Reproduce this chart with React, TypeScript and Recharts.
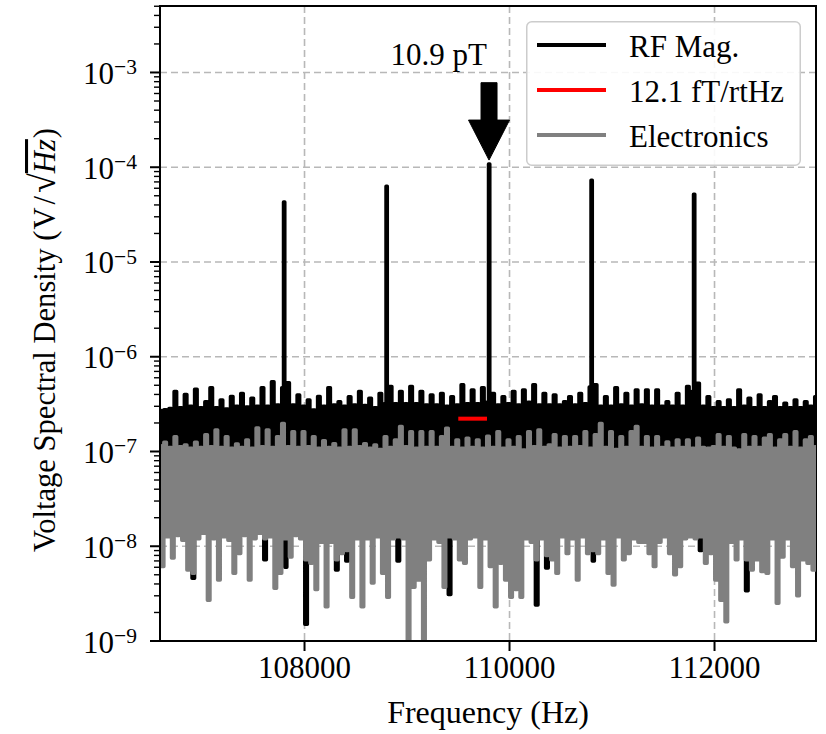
import React from 'react';
import {
  LineChart,
  Line,
  XAxis,
  YAxis,
  CartesianGrid,
  Legend,
  ReferenceLine,
  ReferenceDot,
  ReferenceArea,
} from 'recharts';

const FONT = '"Liberation Serif", "Times New Roman", Times, serif';
const NV = 1e-9; // values below are in nV/rtHz

// frequency grid of the spectrum (Hz)
const freqStart = 106590;
const freqStep = 50;
const xDomain: [number, number] = [106590, 112990];
const yDomain: [number, number] = [1e-9, 5.03e-3];
const xTicks = [108000, 110000, 112000];
const yDecades = [1e-9, 1e-8, 1e-7, 1e-6, 1e-5, 1e-4, 1e-3];
const minorMultipliers = [2, 3, 4, 5, 6, 7, 8, 9];

// RF magnetometer spectrum: upper / lower excursions of the noise (nV/rtHz)
const rfHi = [
  270, 275, 285, 430, 290, 400, 300, 455, 290, 335,
  470, 290, 350, 280, 380, 300, 410, 295, 365, 300,
  470, 300, 545, 310, 470, 530, 310, 395, 300, 349,
  274, 380, 300, 470, 310, 335, 300, 378, 310, 430,
  305, 365, 290, 410, 320, 485, 320, 430, 320, 485,
  320, 430, 310, 395, 310, 410, 300, 378, 310, 505,
  320, 446, 320, 470, 330, 410, 310, 378, 320, 430,
  310, 446, 330, 505, 310, 410, 310, 395, 310, 335,
  378, 310, 410, 320, 480, 505, 300, 378, 300, 470,
  310, 410, 300, 446, 310, 446, 300, 446, 300, 335,
  300, 410, 300, 485, 430, 525, 300, 378, 290, 335,
  290, 350, 290, 446, 300, 365, 290, 395, 290, 335,
  378, 290, 322, 290, 350, 290, 335, 300, 378,
];
const rfLo = [
  28, 25, 32, 26, 30, 24, 4.6, 27, 31, 25,
  29, 26, 24, 33, 27, 25, 30, 28, 26, 24,
  7.2, 27, 30, 25, 6, 29, 26, 31, 1.5, 27,
  25, 30, 28, 24, 5.6, 29, 7.0, 26, 30, 25,
  28, 24, 31, 27, 25, 29, 7.0, 26, 30, 28,
  24, 27, 29, 25, 31, 26, 3.1, 28, 25, 30,
  27, 24, 29, 26, 30, 25, 28, 31, 24, 27,
  29, 26, 25, 2.4, 30, 5.9, 27, 24, 29, 26,
  31, 25, 28, 27, 7.0, 24, 30, 26, 29, 25,
  27, 31, 24, 28, 26, 30, 25, 29, 27, 24,
  28, 26, 31, 25, 27, 9.0, 29, 24, 30, 26,
  25, 28, 27, 31, 3.4, 26, 29, 24, 27, 30,
  26, 28, 25, 29, 27, 24, 30, 26, 28,
];
// RF signal peaks
const peakFreqs = [107800, 108800, 109800, 110800, 111800];
const peakValues = [43000, 63000, 108000, 73000, 52000];

// Electronics noise (nV/rtHz)
const elHi = [
  115, 125, 110, 143, 112, 117, 108, 125, 110, 150,
  112, 169, 110, 143, 108, 120, 110, 132, 108, 177,
  112, 169, 110, 143, 198, 112, 162, 110, 162, 112,
  143, 108, 130, 110, 121, 108, 169, 110, 169, 112,
  121, 108, 117, 105, 143, 110, 132, 183, 112, 162,
  108, 162, 110, 162, 110, 143, 176, 110, 132, 108,
  138, 110, 132, 108, 145, 110, 162, 108, 132, 110,
  143, 104, 162, 112, 169, 110, 117, 150, 108, 143,
  110, 143, 112, 162, 108, 150, 198, 110, 162, 105,
  143, 110, 162, 183, 110, 143, 108, 143, 110, 126,
  108, 132, 110, 132, 108, 138, 110, 108, 112, 150,
  110, 143, 108, 104, 150, 110, 143, 110, 138, 150,
  108, 132, 150, 110, 162, 108, 132, 143, 112,
];
const elLo = [
  6.1, 12.6, 7.5, 13, 11.6, 5.6, 5.2, 12, 13.7, 2.7,
  12, 4.4, 12.6, 11.6, 5.2, 8.4, 13, 4.4, 12, 13.7,
  12, 12.6, 3.6, 5.2, 12, 7.7, 13, 12, 7.2, 6.6,
  3.5, 11, 2.3, 11, 7.2, 8.4, 9, 2.9, 12, 2.3,
  12, 4.1, 12.6, 5.2, 2.9, 12, 12.6, 12, 0.5, 3.7,
  4.4, 0.5, 7.2, 12, 11, 3.7, 12.6, 12, 7.2, 6.6,
  12, 12.6, 3.7, 12, 6.1, 2.3, 6.6, 4.4, 2.9, 3.5,
  2.9, 12, 11, 7.2, 12, 8, 7.2, 5.2, 12.6, 8.4,
  12, 4.4, 12.6, 8.4, 9, 8.4, 12, 5.2, 3.9, 12.6,
  7.2, 8.4, 12, 11, 11, 8.4, 6.1, 11, 12.6, 8.4,
  5, 6.1, 12, 12.6, 12, 12.6, 6.6, 8.4, 4.4, 2.7,
  1.6, 11, 7.2, 12, 7.2, 5.6, 7.2, 5.4, 5.2, 12,
  2.5, 7.7, 12, 6.1, 3.0, 7.2, 6.6, 5.6, 7.2,
];

// 12.1 fT/rtHz sensitivity marker
const redFreqs = [109500, 109780];
const redLevel = 222; // nV/rtHz

// annotation arrow
const arrowFreq = 109800;
const arrowTail = 7.8e-4;
const arrowTip = 1.19e-4;
const arrowLabel = '10.9 pT';
const arrowLabelFreq = 109310;
const arrowLabelValue = 1.2e-3;

const series = [
  { name: 'RF Mag.', color: '#000000' },
  { name: '12.1 fT/rtHz', color: '#ff0000' },
  { name: 'Electronics', color: '#808080' },
];

type Pt = { f: number; v: number };

function buildSpectrum(hi: number[], lo: number[], extraF: number[] = [], extraV: number[] = []): Pt[] {
  const pts: Pt[] = [];
  hi.forEach((h, i) => {
    const f = freqStart + i * freqStep;
    pts.push({ f, v: h * NV });
    pts.push({ f: f + freqStep / 2, v: lo[i] * NV });
  });
  extraF.forEach((f, k) => pts.push({ f, v: extraV[k] * NV }));
  pts.sort((a, b) => a.f - b.f);
  return pts;
}

const rfData = buildSpectrum(rfHi, rfLo, peakFreqs, peakValues);
const elData = buildSpectrum(elHi, elLo);
const redData: Pt[] = redFreqs.map((f) => ({ f, v: redLevel * NV }));

const yTicksAll: number[] = [];
yDecades.forEach((d) => {
  yTicksAll.push(d);
  minorMultipliers.forEach((m) => {
    const v = d * m;
    if (v < yDomain[1]) yTicksAll.push(v);
  });
});

const YTick = (props: any) => {
  const { x, y, payload } = props;
  const v = payload.value as number;
  const exp = Math.round(Math.log10(v));
  const isMajor = Math.abs(v - Math.pow(10, exp)) / v < 1e-6;
  return (
    <g>
      <line x1={x - (isMajor ? 10 : 6)} x2={x} y1={y} y2={y} stroke="#000" strokeWidth={isMajor ? 2 : 1.4} />
      {isMajor && (
        <text x={x - 23} y={y + 11.5} textAnchor="end" fontFamily={FONT} fontSize={31} fill="#000">
          10
          <tspan dy={-9.5} fontSize={21.5}>{'\u2212' + Math.abs(exp)}</tspan>
        </text>
      )}
    </g>
  );
};

// y-axis title, starting at the bottom and reading upwards
const YLabel = () => {
  const bx = 55;
  const by = 552;
  return (
    <text
      x={bx}
      y={by}
      transform={`rotate(-90, ${bx}, ${by})`}
      textAnchor="start"
      fontFamily={FONT}
      fontSize={30.6}
      fill="#000"
    >
      {'Voltage Spectral Density ('}
      <tspan dx={1}>{'V'}</tspan>
      <tspan dx={3}>{'/'}</tspan>
      <tspan dx={3} fontSize={36}>{'\u221A'}</tspan>
      <tspan fontStyle="italic" style={{ textDecoration: 'overline' }}>{'Hz'}</tspan>
      <tspan dx={1}>{')'}</tspan>
    </text>
  );
};

const ArrowShape = (props: any) => {
  const { x1, y1, x2, y2 } = props;
  if ([x1, y1, x2, y2].some((n) => typeof n !== 'number' || isNaN(n))) return null;
  const headLen = 40;
  const headHalf = 20.5;
  const shaftHalf = 8;
  const hb = y2 - headLen;
  const pts = [
    [x2, y2],
    [x2 - headHalf, hb],
    [x2 - shaftHalf, hb],
    [x2 - shaftHalf, y1],
    [x2 + shaftHalf, y1],
    [x2 + shaftHalf, hb],
    [x2 + headHalf, hb],
  ]
    .map((p) => p.join(','))
    .join(' ');
  return <polygon points={pts} fill="#000" stroke="#000" strokeWidth={1} strokeLinejoin="miter" />;
};

const LabelShape = (props: any) => {
  const { cx, cy } = props;
  return (
    <text x={cx} y={cy} textAnchor="middle" fontFamily={FONT} fontSize={31} fill="#000">
      {arrowLabel}
    </text>
  );
};

const LegendBox = () => {
  return (
    <svg width={276} height={146} style={{ display: 'block' }}>
      <rect x={0.75} y={0.75} width={273.5} height={143.5} rx={5} ry={5} fill="#ffffff" fillOpacity={0.9} stroke="#cccccc" strokeWidth={1.5} />
      {series.map((s, k) => (
        <g key={s.name}>
          <line x1={11} x2={80} y1={24 + 45 * k} y2={24 + 45 * k} stroke={s.color} strokeWidth={4} />
          <text x={103} y={35.7 + 45 * k} fontFamily={FONT} fontSize={31} fill="#000">
            {s.name}
          </text>
        </g>
      ))}
    </svg>
  );
};

export default function App() {
  return (
    <div style={{ position: 'absolute', left: 0, top: 0, width: 826, height: 734, background: '#fff' }}>
      <LineChart width={826} height={734} margin={{ top: 6, right: 10, bottom: 0, left: 0 }}>
        <CartesianGrid
          horizontalValues={yDecades}
          verticalValues={xTicks}
          stroke="#b8b8b8"
          strokeDasharray="7 4"
          strokeWidth={1.6}
        />
        <XAxis
          dataKey="f"
          type="number"
          domain={xDomain}
          allowDataOverflow
          ticks={xTicks}
          interval={0}
          tickSize={10}
          tickMargin={5}
          height={93}
          axisLine={{ stroke: '#000', strokeWidth: 2 }}
          tickLine={{ stroke: '#000', strokeWidth: 2 }}
          tick={{ fontSize: 31, fontFamily: FONT, fill: '#000' }}
          label={{ value: 'Frequency (Hz)', position: 'insideBottom', offset: 11, fontSize: 32, fontFamily: FONT, fill: '#000' }}
        />
        <YAxis
          type="number"
          scale="log"
          domain={yDomain}
          allowDataOverflow
          ticks={yTicksAll}
          interval={0}
          width={160}
          tickSize={0}
          tickMargin={0}
          tickLine={false}
          axisLine={{ stroke: '#000', strokeWidth: 2 }}
          tick={<YTick />}
          label={{ content: () => <YLabel /> }}
        />
        <Line
          data={rfData}
          dataKey="v"
          name={series[0].name}
          stroke={series[0].color}
          strokeWidth={3.5}
          strokeLinejoin="round"
          dot={false}
          activeDot={false}
          isAnimationActive={false}
          type="step"
        />
        <Line
          data={redData}
          dataKey="v"
          name={series[1].name}
          stroke={series[1].color}
          strokeWidth={4}
          dot={false}
          activeDot={false}
          isAnimationActive={false}
          type="linear"
        />
        <Line
          data={elData}
          dataKey="v"
          name={series[2].name}
          stroke={series[2].color}
          strokeWidth={3.5}
          strokeLinejoin="round"
          dot={false}
          activeDot={false}
          isAnimationActive={false}
          type="step"
        />
        <ReferenceLine
          segment={[
            { x: arrowFreq, y: arrowTail },
            { x: arrowFreq, y: arrowTip },
          ]}
          shape={(p: any) => <ArrowShape {...p} />}
        />
        <ReferenceDot x={arrowLabelFreq} y={arrowLabelValue} r={0} shape={(p: any) => <LabelShape {...p} />} />
        <ReferenceArea x1={xDomain[0]} x2={xDomain[1]} y1={yDomain[0]} y2={yDomain[1]} fill="none" stroke="#000" strokeWidth={2} />
        <Legend
          layout="vertical"
          align="center"
          verticalAlign="middle"
          wrapperStyle={{ left: 526, top: 21, width: 276, height: 146 }}
          content={() => <LegendBox />}
        />
      </LineChart>
    </div>
  );
}
